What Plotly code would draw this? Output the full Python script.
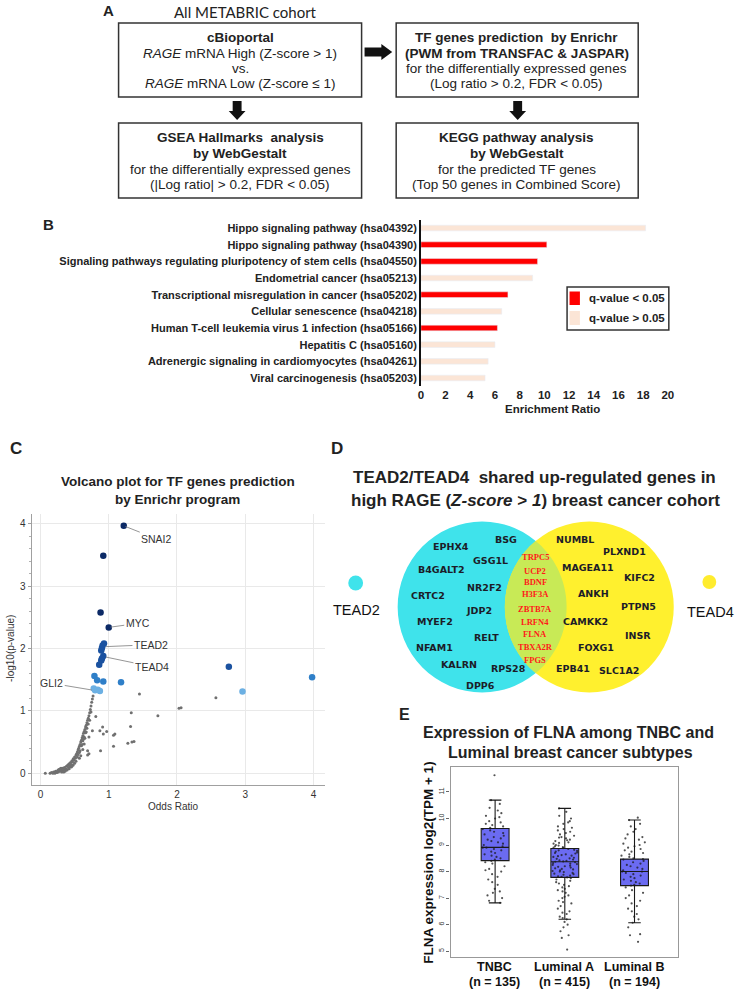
import numpy as np
import plotly.graph_objects as go

W, H = 742, 991
def X(px): return px / W
def Y(py): return 1 - py / H

SANS = "Liberation Sans, Arial, sans-serif"

# ---------------- Panel B data ----------------
pathways = [
    "Hippo signaling pathway (hsa04392)",
    "Hippo signaling pathway (hsa04390)",
    "Signaling pathways regulating pluripotency of stem cells (hsa04550)",
    "Endometrial cancer (hsa05213)",
    "Transcriptional misregulation in cancer (hsa05202)",
    "Cellular senescence (hsa04218)",
    "Human T-cell leukemia virus 1 infection (hsa05166)",
    "Hepatitis C (hsa05160)",
    "Adrenergic signaling in cardiomyocytes (hsa04261)",
    "Viral carcinogenesis (hsa05203)",
]
enrichment_ratio = [18.2, 10.2, 9.45, 9.05, 7.05, 6.55, 6.2, 6.0, 5.45, 5.2]
significant = [False, True, True, False, True, False, True, False, False, False]
enrich_ticks = [0, 2, 4, 6, 8, 10, 12, 14, 16, 18, 20]
legend_labels = ["q-value < 0.05", "q-value > 0.05"]
bar_colors = ["#FF0000", "#FBE5D6"]

# ---------------- Panel C data ----------------
grey_odds = [0.07, 0.14, 0.16, 0.18, 0.19, 0.20, 0.21, 0.22, 0.23, 0.24, 0.25, 0.26, 0.27, 0.28,
             0.29, 0.30, 0.31, 0.32, 0.33, 0.34, 0.35, 0.36, 0.37, 0.38, 0.39, 0.40, 0.41, 0.42,
             0.43, 0.44, 0.45, 0.46, 0.47, 0.48, 0.49, 0.50, 0.51, 0.52, 0.53, 0.54, 0.55, 0.56,
             0.57, 0.58, 0.59, 0.60, 0.61, 0.62, 0.63, 0.64, 0.65, 0.66, 0.67, 0.68, 0.69, 0.70,
             0.71, 0.72, 0.73, 0.74, 0.75, 0.76, 0.77,
             0.58, 0.60, 0.62, 0.64, 0.55, 0.66, 0.68, 0.70, 0.52, 0.48, 0.45,
             0.26, 0.30, 0.34, 0.38, 0.42, 0.46, 0.50, 0.54, 0.57, 0.61, 0.63, 0.67, 0.72, 0.74,
             1.45, 2.57, 2.06, 2.03, 1.33, 1.72, 0.81, 1.32, 0.91, 0.97, 0.87, 0.92, 0.76, 1.09,
             1.07, 1.37, 1.34, 1.28, 1.07, 0.88, 0.71, 0.69, 0.65, 0.71, 0.62, 0.59, 0.57, 0.69, 0.64]
grey_logp = [0.00, 0.00, 0.01, 0.00, 0.02, 0.01, 0.00, 0.03, 0.02, 0.01, 0.04, 0.02, 0.06, 0.03,
             0.07, 0.05, 0.02, 0.08, 0.04, 0.06, 0.09, 0.03, 0.07, 0.11, 0.05, 0.13, 0.09, 0.15,
             0.12, 0.17, 0.14, 0.20, 0.18, 0.23, 0.21, 0.26, 0.24, 0.29, 0.31, 0.34, 0.37, 0.40,
             0.43, 0.46, 0.50, 0.53, 0.57, 0.60, 0.64, 0.67, 0.70, 0.74, 0.77, 0.81, 0.85, 0.88,
             0.92, 0.97, 1.02, 1.08, 1.14, 1.19, 1.24,
             0.36, 0.44, 0.52, 0.58, 0.30, 0.65, 0.72, 0.79, 0.19, 0.13, 0.10,
             0.05, 0.08, 0.02, 0.06, 0.07, 0.11, 0.16, 0.26, 0.33, 0.46, 0.55, 0.66, 0.85, 0.98,
             1.27, 1.21, 1.05, 1.04, 0.97, 0.92, 0.91, 0.75, 0.74, 0.67, 0.68, 0.63, 0.68, 0.63,
             0.61, 0.51, 0.50, 0.48, 0.43, 0.36, 0.31, 0.29, 0.56, 0.58, 0.38, 0.28, 0.24, 0.36, 0.47]

navy_odds = [1.22, 0.92, 0.88, 1.00]
navy_logp = [3.97, 3.49, 2.58, 2.34]
dark_odds = [0.93, 0.91, 0.90, 0.89, 0.92, 0.90, 0.89, 0.86, 2.76]
dark_logp = [2.08, 2.05, 2.01, 1.97, 1.88, 1.84, 1.81, 1.74, 1.71]
mid_odds = [0.79, 0.83, 0.92, 1.18, 3.98]
mid_logp = [1.56, 1.49, 1.47, 1.46, 1.54]
light_odds = [0.78, 0.80, 0.84, 0.87, 2.96]
light_logp = [1.36, 1.33, 1.34, 1.32, 1.31]

labels_tf = ["SNAI2", "MYC", "TEAD2", "TEAD4", "GLI2"]
labels_odds = [1.22, 1.00, 0.93, 0.93, 0.78]
labels_logp = [3.97, 2.34, 2.03, 1.87, 1.33]

# ---------------- Panel D data ----------------
tead2_only = ["EPHX4", "BSG", "GSG1L", "B4GALT2", "NR2F2", "CRTC2", "JDP2", "MYEF2", "RELT",
              "NFAM1", "KALRN", "RPS28", "DPP6"]
tead4_only = ["NUMBL", "PLXND1", "MAGEA11", "KIFC2", "ANKH", "PTPN5", "CAMKK2", "INSR", "FOXG1",
              "EPB41", "SLC1A2"]
shared = ["TRPC5", "UCP2", "BDNF", "H3F3A", "ZBTB7A", "LRFN4", "FLNA", "TBXA2R", "FPGS"]

# ---------------- Panel E data ----------------
subtypes = ["TNBC", "Luminal A", "Luminal B"]
subtype_n = ["(n = 135)", "(n = 415)", "(n = 194)"]
q1 = [8.41, 7.78, 7.47]
median = [8.91, 8.37, 8.00]
q3 = [9.62, 8.87, 8.47]
lower_whisker = [6.82, 6.20, 6.07]
upper_whisker = [10.69, 10.38, 9.94]
tnbc_values = [11.63, 10.69, 10.55, 10.4, 10.3, 10.2, 10.1, 10.05, 10.0, 9.9, 9.85, 9.8, 9.75, 9.7,
               9.65, 9.6, 9.55, 9.5, 9.45, 9.4, 9.35, 9.3, 9.25, 9.2, 9.15, 9.1, 9.05, 9.0, 8.95,
               8.9, 8.9, 8.85, 8.8, 8.75, 8.7, 8.65, 8.6, 8.55, 8.5, 8.45, 8.4, 8.35, 8.3, 8.2,
               8.1, 8.05, 8.0, 7.9, 7.8, 7.7, 7.6, 7.5, 7.35, 7.25, 7.2, 7.1, 7.0, 6.9, 6.82]
luma_values = [10.38, 10.25, 10.1, 10.0, 9.9, 9.85, 9.8, 9.7, 9.65, 9.6, 9.55, 9.5, 9.45, 9.4,
               9.35, 9.3, 9.28, 9.25, 9.2, 9.18, 9.15, 9.1, 9.08, 9.05, 9.0, 8.98, 8.95, 8.92,
               8.9, 8.88, 8.85, 8.82, 8.8, 8.78, 8.75, 8.72, 8.7, 8.68, 8.65, 8.62, 8.6, 8.58,
               8.55, 8.52, 8.5, 8.48, 8.45, 8.42, 8.4, 8.38, 8.37, 8.35, 8.32, 8.3, 8.28, 8.25,
               8.22, 8.2, 8.18, 8.15, 8.12, 8.1, 8.08, 8.05, 8.02, 8.0, 7.98, 7.95, 7.92, 7.9,
               7.88, 7.85, 7.82, 7.8, 7.78, 7.75, 7.7, 7.65, 7.6, 7.55, 7.5, 7.45, 7.4, 7.35,
               7.3, 7.25, 7.2, 7.1, 7.05, 7.0, 6.9, 6.85, 6.8, 6.7, 6.6, 6.5, 6.45, 6.4, 6.3,
               6.25, 6.2, 6.1, 6.0, 5.9, 5.75, 5.6, 5.5, 5.06]
lumb_values = [10.03, 9.94, 9.8, 9.7, 9.6, 9.5, 9.4, 9.3, 9.25, 9.2, 9.1, 9.05, 9.0, 8.95, 8.9,
               8.85, 8.8, 8.75, 8.7, 8.65, 8.6, 8.55, 8.5, 8.47, 8.45, 8.4, 8.35, 8.3, 8.25, 8.2,
               8.15, 8.1, 8.05, 8.0, 8.0, 7.95, 7.9, 7.85, 7.8, 7.75, 7.7, 7.65, 7.6, 7.55, 7.5,
               7.47, 7.4, 7.3, 7.2, 7.1, 7.0, 6.9, 6.8, 6.7, 6.6, 6.5, 6.4, 6.3, 6.2, 6.07, 5.9,
               5.64, 5.6, 5.35]
expr_values = [tnbc_values, luma_values, lumb_values]

fig = go.Figure()

# ---------------- Panel B bars ----------------
sig_names = [p for p, s in zip(pathways, significant) if s]
sig_vals = [v for v, s in zip(enrichment_ratio, significant) if s]
ns_names = [p for p, s in zip(pathways, significant) if not s]
ns_vals = [v for v, s in zip(enrichment_ratio, significant) if not s]
fig.add_trace(go.Bar(y=sig_names, x=sig_vals, orientation="h", marker_color=bar_colors[0],
                     width=0.34, name=legend_labels[0], xaxis="x", yaxis="y", showlegend=False))
fig.add_trace(go.Bar(y=ns_names, x=ns_vals, orientation="h", marker_color=bar_colors[1],
                     width=0.34, name=legend_labels[1], xaxis="x", yaxis="y", showlegend=False))

# ---------------- Panel C volcano ----------------
fig.add_trace(go.Scatter(x=grey_odds, y=grey_logp, mode="markers", xaxis="x2", yaxis="y2",
                         marker=dict(size=3, color="#707070"), showlegend=False))
for xs, ys, col in [(light_odds, light_logp, "#6cb0e3"), (mid_odds, mid_logp, "#2f7fc8"),
                    (dark_odds, dark_logp, "#1b52a0"), (navy_odds, navy_logp, "#0c2a66")]:
    fig.add_trace(go.Scatter(x=xs, y=ys, mode="markers", xaxis="x2", yaxis="y2",
                             marker=dict(size=6.5, color=col), showlegend=False))

# ---------------- Panel E boxes ----------------
for i, cat in enumerate(subtypes):
    fig.add_trace(go.Box(x=[cat], q1=[q1[i]], median=[median[i]], q3=[q3[i]],
                         lowerfence=[lower_whisker[i]], upperfence=[upper_whisker[i]],
                         boxpoints=False, width=0.4, whiskerwidth=0.45,
                         fillcolor="#6B6BF2", line=dict(color="#1a1a1a", width=1.1),
                         xaxis="x3", yaxis="y3", showlegend=False))
for i, cat in enumerate(subtypes):
    vals = expr_values[i]
    fig.add_trace(go.Box(x=[cat] * len(vals), y=vals, boxpoints="all", jitter=0.95, pointpos=0,
                         width=0.4, fillcolor="rgba(0,0,0,0)",
                         line=dict(width=0, color="rgba(0,0,0,0)"),
                         marker=dict(size=2.2, color="rgba(25,25,25,0.75)"),
                         xaxis="x3", yaxis="y3", showlegend=False))

shapes = []
ann = []

def text(px, py, s, size=12, color="#222", family=SANS, xanchor="center", angle=0, **kw):
    ann.append(dict(x=X(px), y=Y(py), xref="paper", yref="paper", text=s, showarrow=False,
                    xanchor=xanchor, yanchor="middle", textangle=angle,
                    font=dict(size=size, color=color, family=family), **kw))

def rect(x0, y0, x1, y1, fill="rgba(0,0,0,0)", line_color=None, lw=0):
    shapes.append(dict(type="rect", xref="paper", yref="paper", x0=X(x0), x1=X(x1), y0=Y(y1), y1=Y(y0),
                       line=dict(color=line_color or "rgba(0,0,0,0)", width=lw), fillcolor=fill))

def poly(points, color="#111"):
    path = "M " + " L ".join(f"{X(a):.5f},{Y(b):.5f}" for a, b in points) + " Z"
    shapes.append(dict(type="path", xref="paper", yref="paper", path=path,
                       fillcolor=color, line=dict(width=0)))

# ---------------- Panel A flowchart ----------------
text(107, 11, "<b>A</b>", size=15)
text(245, 12, "All METABRIC cohort", size=15, family="Lato, sans-serif")
for (x0, y0, x1, y1) in [(117, 23, 363, 97), (398, 23, 643, 97), (117, 123, 363, 198), (398, 123, 643, 198)]:
    rect(x0, y0, x1, y1, line_color="#333", lw=1.5)
box_lines = [
    (240, [37, 53, 69, 84], ["<b>cBioportal</b>", "<i>RAGE</i> mRNA High (Z-score > 1)", "vs.",
                              "<i>RAGE</i> mRNA Low (Z-score ≤ 1)"]),
    (520, [37, 53, 69, 84], ["<b>TF genes prediction  by Enrichr</b>", "<b>(PWM from TRANSFAC & JASPAR)</b>",
                              "for the differentially expressed genes", "(Log ratio > 0.2, FDR < 0.05)"]),
    (240, [137, 153, 169, 185], ["<b>GSEA Hallmarks  analysis</b>", "<b>by WebGestalt</b>",
                                  "for the differentially expressed genes", "(|Log ratio| > 0.2, FDR < 0.05)"]),
    (520, [137, 153, 169, 185], ["<b>KEGG pathway analysis</b>", "<b>by WebGestalt</b>",
                                  "for the predicted TF genes", "(Top 50 genes in Combined Score)"]),
]
for cx, ys, lines in box_lines:
    for yy, s in zip(ys, lines):
        text(cx, yy, s, size=13.5)
# arrows
poly([(366, 47.5), (383, 47.5), (383, 44), (394, 52), (383, 60), (383, 56.5), (366, 56.5)])
for ax_ in (237, 521):
    poly([(ax_ - 4.5, 101), (ax_ + 4.5, 101), (ax_ + 4.5, 111), (ax_ + 8.5, 111), (ax_, 120),
          (ax_ - 8.5, 111), (ax_ - 4.5, 111)])

# ---------------- Panel B labels + legend ----------------
text(46, 225, "<b>B</b>", size=15)
text(556, 409, "<b>Enrichment Ratio</b>", size=11.5)
rect(571, 287, 674, 330, fill="white", line_color="#333", lw=1.5)
rect(573.5, 291.5, 584, 305, fill=bar_colors[0])
rect(573.5, 311, 584, 325, fill=bar_colors[1])
text(591, 298, f"<b>{legend_labels[0]}</b>", size=11.5, xanchor="left")
text(591, 318, f"<b>{legend_labels[1]}</b>", size=11.5, xanchor="left")

# ---------------- Panel C labels ----------------
text(13, 448, "<b>C</b>", size=17)
text(177, 481, "<b>Volcano plot for TF genes prediction</b>", size=13.5)
text(177, 499, "<b>by Enrichr program</b>", size=13.5)
text(172, 806, "Odds Ratio", size=10, color="#333")
text(7, 648, "-log10(p-value)", size=10, color="#333", angle=-90)
offsets = {"SNAI2": (33, 13), "MYC": (29, -4), "TEAD2": (47, -2), "TEAD4": (48, 10), "GLI2": (-42, -7)}
for lab, ox, oy in zip(labels_tf, labels_odds, labels_logp):
    dx, dy = offsets[lab]
    ann.append(dict(x=ox, y=oy, xref="x2", yref="y2", text=lab, showarrow=True, arrowhead=0,
                    ax=dx, ay=dy, arrowcolor="#8a8a8a", arrowwidth=0.9, standoff=2,
                    font=dict(size=10.5, color="#333", family=SANS)))

# ---------------- Panel D Venn ----------------
text(338, 448, "<b>D</b>", size=17)
text(538, 478, "<b>TEAD2/TEAD4  shared up-regulated genes in</b>", size=17)
text(539, 500, "<b>high RAGE (<i>Z-score</i> > <i>1</i>) breast cancer cohort</b>", size=17)
c1, c2, r, cy = 485.0, 593.5, 85.5, 607.0
shapes.append(dict(type="circle", xref="paper", yref="paper", x0=X(c1 - r), x1=X(c1 + r),
                   y0=Y(cy + r), y1=Y(cy - r), fillcolor="#3FE3EB", line=dict(width=0), layer="below"))
shapes.append(dict(type="circle", xref="paper", yref="paper", x0=X(c2 - r), x1=X(c2 + r),
                   y0=Y(cy + r), y1=Y(cy - r), fillcolor="#FFF02E", line=dict(width=0), layer="below"))
half = (c2 - c1) / 2
theta = np.arccos(half / r)
t1 = np.linspace(-theta, theta, 40)
t2 = np.linspace(np.pi - theta, np.pi + theta, 40)
lens = [(c1 + r * np.cos(t), cy - r * np.sin(t)) for t in t1[::-1]] + \
       [(c2 + r * np.cos(t), cy - r * np.sin(t)) for t in t2]
path = "M " + " L ".join(f"{X(a):.5f},{Y(b):.5f}" for a, b in lens) + " Z"
shapes.append(dict(type="path", xref="paper", yref="paper", path=path, fillcolor="#C8EA56",
                   line=dict(width=0), layer="below"))
shapes.append(dict(type="circle", xref="paper", yref="paper", x0=X(349.5), x1=X(364.5),
                   y0=Y(590.5), y1=Y(575.5), fillcolor="#3FE3EB", line=dict(width=0)))
shapes.append(dict(type="circle", xref="paper", yref="paper", x0=X(708), x1=X(722),
                   y0=Y(589), y1=Y(575), fillcolor="#FFEC2E", line=dict(width=0)))
text(358, 610, "TEAD2", size=14.5, color="#111")
text(716, 612, "TEAD4", size=14.5, color="#111")
pos2 = [(453, 546), (509, 539), (493, 560), (444, 569), (487, 587), (430, 595), (482, 610),
        (437, 621), (489, 637), (437, 647), (462, 664), (512, 668), (483, 685)]
pos4 = [(579, 539), (629, 551), (592, 567), (644, 577), (598, 593), (643, 606), (590, 621),
        (643, 635), (600, 647), (577, 668), (624, 670)]
for g, (gx, gy) in zip(tead2_only + tead4_only, pos2 + pos4):
    text(gx, gy, f"<b>{g}</b>", size=9.5, color="#1c1c28", family="DejaVu Sans, sans-serif")
for k, g in enumerate(shared):
    text(539, [557, 571, 582, 594, 609, 622, 634, 647, 660][k], f"<b>{g}</b>", size=8.5,
         color="#FF1A1A", family="Liberation Serif, serif")

# ---------------- Panel E labels ----------------
text(406, 714, "<b>E</b>", size=16)
text(572, 732, "<b>Expression of FLNA among TNBC and</b>", size=16)
text(574, 752, "<b>Luminal breast cancer subtypes</b>", size=16)
text(430, 863, "<b>FLNA expression log2(TPM + 1)</b>", size=13.5, angle=-90, color="#111")
for cx, s1, s2 in zip([498, 568, 639], subtypes, subtype_n):
    text(cx, 967, f"<b>{s1}</b>", size=12.5, color="#111")
    text(cx, 982, f"<b>{s2}</b>", size=12.5, color="#111")

fig.update_layout(
    width=W, height=H, margin=dict(l=0, r=0, t=0, b=0),
    paper_bgcolor="white", plot_bgcolor="white",
    barmode="overlay", boxmode="overlay", showlegend=False,
    font=dict(family=SANS, color="#222"),
    shapes=shapes, annotations=ann,
    xaxis=dict(domain=[X(423), X(673)], range=[0, 20], tickvals=enrich_ticks, showgrid=False,
               zeroline=False, showline=False, ticks="", anchor="y",
               tickfont=dict(size=11.5, weight="bold", color="#222")),
    yaxis=dict(domain=[Y(386.3), Y(219.7)], type="category", categoryorder="array",
               categoryarray=pathways, autorange="reversed", showline=True, linecolor="#111",
               linewidth=1.5, ticks="", showgrid=False, anchor="x",
               tickfont=dict(size=11, weight="bold", color="#222")),
    xaxis2=dict(domain=[X(29), X(326)], range=[-0.13, 4.17], tickvals=[0, 1, 2, 3, 4],
                showgrid=True, gridcolor="#e9e9e9", zeroline=False, showline=True, linecolor="#a0a0a0",
                ticks="", anchor="y2", tickfont=dict(size=10, color="#333")),
    yaxis2=dict(domain=[Y(785), Y(514)], range=[-0.19, 4.16], tickvals=[0, 1, 2, 3, 4],
                showgrid=True, gridcolor="#e9e9e9", zeroline=False, showline=True, linecolor="#a0a0a0",
                ticks="outside", ticklen=3, tickcolor="#a0a0a0", anchor="x2",
                minor=dict(dtick=0.2, ticks="outside", ticklen=2, tickcolor="#b0b0b0", showgrid=False),
                tickfont=dict(size=10, color="#333")),
    xaxis3=dict(domain=[X(453), X(683)], range=[-0.64, 2.62], type="category", showgrid=False,
                zeroline=False, showline=True, mirror=True, linecolor="#999", linewidth=1.2, ticks="",
                anchor="y3", showticklabels=False),
    yaxis3=dict(domain=[Y(957), Y(767)], range=[4.78, 11.94], tickvals=[5, 6, 7, 8, 9, 10, 11],
                showgrid=False, zeroline=False, showline=True, mirror=True, linecolor="#999",
                linewidth=1.2, ticks="outside", ticklen=3, tickcolor="#666", tickangle=-90,
                anchor="x3", tickfont=dict(size=7, color="#333")),
)

fig.write_html("out.html", config={"displayModeBar": False},
               post_script="document.body.style.margin='0px';document.body.style.overflow='hidden';")
